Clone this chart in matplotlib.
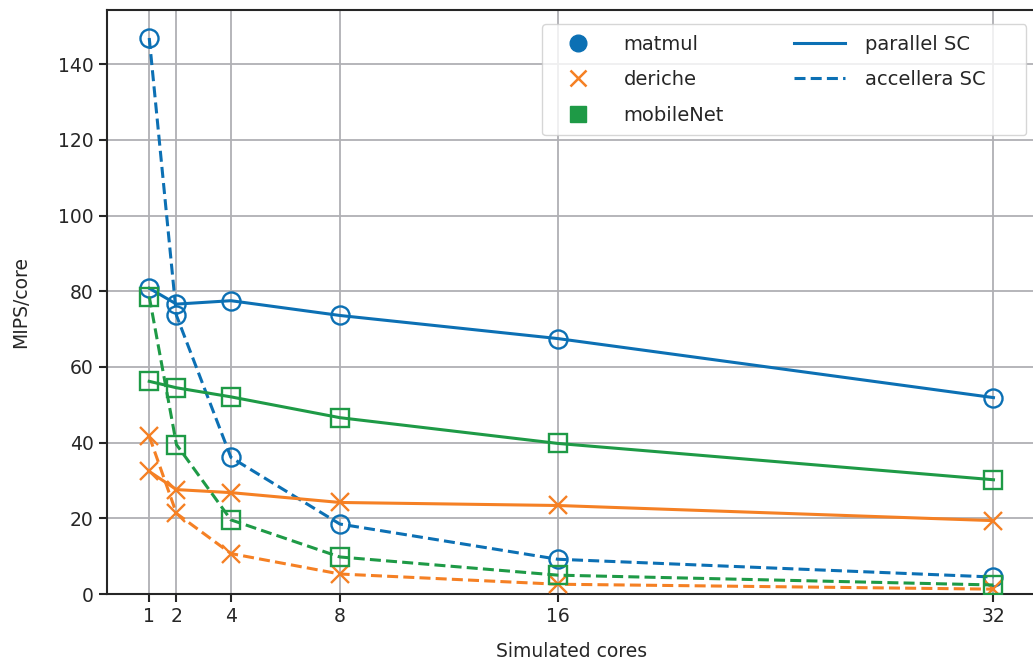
import matplotlib
matplotlib.use("Agg")
import matplotlib.pyplot as plt
from matplotlib.lines import Line2D

cores = [1, 2, 4, 8, 16, 32]
benchmarks = ["matmul", "deriche", "mobileNet"]
matmul_parallel = [80.8, 76.6, 77.5, 73.6, 67.5, 51.9]
matmul_accellera = [146.9, 73.6, 36.1, 18.5, 9.2, 4.5]
deriche_parallel = [32.4, 27.6, 26.8, 24.2, 23.4, 19.4]
deriche_accellera = [41.7, 21.3, 10.7, 5.3, 2.6, 1.3]
mobilenet_parallel = [56.2, 54.5, 52.1, 46.6, 39.8, 30.2]
mobilenet_accellera = [78.6, 39.5, 19.6, 9.8, 5.0, 2.4]
xticks = [1, 2, 4, 8, 16, 32]
yticks = [0, 20, 40, 60, 80, 100, 120, 140]

colors = {"matmul": "#0C70B4", "deriche": "#F58024", "mobileNet": "#1E9A46"}
markers = {"matmul": "o", "deriche": "x", "mobileNet": "s"}
parallel = {"matmul": matmul_parallel, "deriche": deriche_parallel, "mobileNet": mobilenet_parallel}
accellera = {"matmul": matmul_accellera, "deriche": deriche_accellera, "mobileNet": mobilenet_accellera}

DASH = (0, (3.6, 1.7))

plt.rcParams['font.family'] = ['DejaVu Sans']
fig = plt.figure(figsize=(10.33, 6.66), dpi=100)
ax = fig.add_axes([0.1036, 0.108, 0.899, 0.877])

for b in benchmarks:
    c = colors[b]
    m = markers[b]
    ms = 13 if m != "x" else 13.5
    ax.plot(cores, parallel[b], color=c, lw=2.2, ls='-', marker=m, ms=ms,
            mfc='none', mec=c, mew=1.7, zorder=3)
    ax.plot(cores, accellera[b], color=c, lw=2.2, ls=DASH, marker=m, ms=ms,
            mfc='none', mec=c, mew=1.7, zorder=3)

ax.set_xlim(-0.55, 33.55)
ax.set_ylim(0, 154.3)
ax.set_xticks(xticks)
ax.set_yticks(yticks)
ax.grid(True, color='#b0b0b4', lw=1.3, zorder=0)
ax.set_axisbelow(True)
for s in ax.spines.values():
    s.set_color('#262626')
    s.set_linewidth(1.5)
ax.tick_params(axis='both', colors='#262626', labelsize=13.5, length=6, width=1.5,
               labelcolor='#262626')
ax.set_xlabel("Simulated cores", fontsize=13.5, color='#262626', labelpad=11)
ax.set_ylabel("MIPS/core", fontsize=13.5, color='#262626', labelpad=20)

handles = [
    Line2D([], [], ls='none', marker='o', color=colors['matmul'], ms=12),
    Line2D([], [], ls='none', marker='x', color=colors['deriche'], ms=12, mew=1.8),
    Line2D([], [], ls='none', marker='s', color=colors['mobileNet'], ms=12),
    Line2D([], [], ls='-', color=colors['matmul'], lw=2.2),
    Line2D([], [], ls=DASH, color=colors['matmul'], lw=2.2),
    Line2D([], [], ls='none'),
]
labels = ["matmul", "deriche", "mobileNet", "parallel SC", "accellera SC", "accellera SC aa"]
leg = ax.legend(handles, labels, ncol=2, loc='upper right', fontsize=14,
                bbox_to_anchor=(0.990, 0.976), borderaxespad=0.0,
                frameon=True, fancybox=True,
                framealpha=0.8, edgecolor='#cccccc', handlelength=2.6,
                columnspacing=3.6, handletextpad=1.05, borderpad=0.55, labelspacing=0.85)
for t in leg.get_texts():
    t.set_color('#262626')
leg.get_texts()[-1].set_alpha(0)

fig.savefig("out.png", dpi=100)
